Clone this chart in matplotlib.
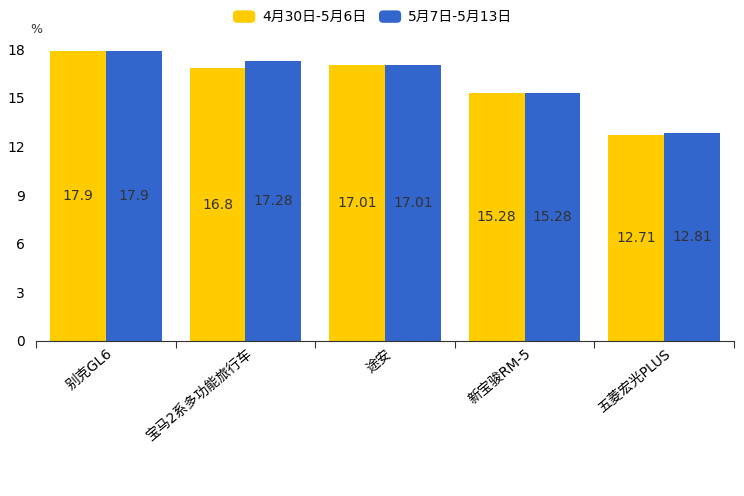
import numpy as np
import matplotlib.pyplot as plt
from matplotlib.patches import FancyBboxPatch
from matplotlib.legend_handler import HandlerPatch

plt.rcParams['font.family'] = ['DejaVu Sans', 'Noto Sans CJK SC']

categories = ["别克GL6", "宝马2系多功能旅行车", "途安", "新宝骏RM-5", "五菱宏光PLUS"]
week1 = [17.9, 16.8, 17.01, 15.28, 12.71]
week2 = [17.9, 17.28, 17.01, 15.28, 12.81]
series_names = ["4月30日-5月6日", "5月7日-5月13日"]
colors = ["#FFCC00", "#3366CC"]
y_ticks = [0, 3, 6, 9, 12, 15, 18]


class RoundBoxHandler(HandlerPatch):
    def create_artists(self, legend, orig_handle, xdescent, ydescent,
                       width, height, fontsize, trans):
        p = FancyBboxPatch((-xdescent + 1, -ydescent), width - 2, height,
                           boxstyle="round,pad=0,rounding_size=3",
                           facecolor=orig_handle.get_facecolor(),
                           edgecolor="none", transform=trans)
        return [p]


fig = plt.figure(figsize=(7.44, 4.96), dpi=100)
ax = fig.add_axes([0.0484, 0.3125, 0.9382, 0.5887])

x = np.arange(len(categories))
w = 0.4
bars = []
for k, (vals, name, c) in enumerate(zip([week1, week2], series_names, colors)):
    b = ax.bar(x + (k - 0.5) * w, vals, width=w, color=c, label=name,
               edgecolor="none")
    bars.append(b)
    for xi, v in zip(x + (k - 0.5) * w, vals):
        ax.text(xi, v / 2, f"{v:g}", ha="center", va="center",
                fontsize=10, color="#333333")

ax.set_xlim(-0.5, len(categories) - 0.5)
ax.set_ylim(0, 18)
ax.set_yticks(y_ticks)
ax.tick_params(axis="y", length=0, labelsize=10, pad=8)

# ticks between categories, labels at centers
ax.set_xticks(np.arange(len(categories) + 1) - 0.5)
ax.set_xticklabels([])
ax.tick_params(axis="x", which="major", length=5, color="#333333")
ax.set_xticks(x, minor=True)
ax.set_xticklabels(categories, minor=True, rotation=40, ha="right",
                   rotation_mode="anchor", fontsize=10)
ax.tick_params(axis="x", which="minor", length=0, pad=4)

for s in ["top", "right", "left"]:
    ax.spines[s].set_visible(False)
ax.spines["bottom"].set_color("#333333")

fig.text(0.041, 0.94, "%", fontsize=9, ha="left", va="center", color="#333333")

handles = [b.patches[0] for b in bars]
fig.legend(handles, series_names, loc="center", bbox_to_anchor=(0.5, 0.965),
           ncol=2, frameon=False, fontsize=10, handlelength=1.8,
           handleheight=1.0, columnspacing=0.8, handletextpad=0.4,
           handler_map={h: RoundBoxHandler() for h in handles})

fig.savefig("out.png", dpi=100)
